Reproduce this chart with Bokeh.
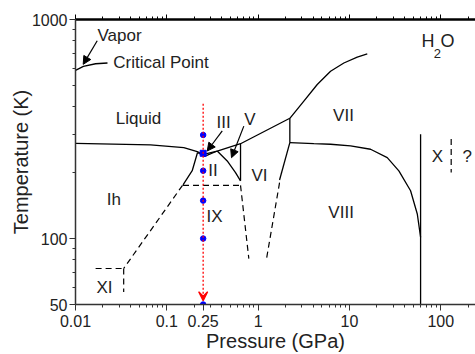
from bokeh.plotting import figure
from bokeh.models import (FixedTicker, LogAxis, CustomJSTickFormatter, Arrow,
                          NormalHead, VeeHead, Range1d)
from bokeh.core.properties import value
from bokeh.embed import file_html
from bokeh.resources import INLINE

FONT = "Liberation Sans"

# ---------------- data (pressure in GPa, temperature in K) ----------------
vap_p = [0.0100, 0.0122, 0.0166, 0.0224]
vap_t = [586, 611, 628, 633]

liq_p = [0.0100, 0.0663, 0.1535, 0.2153, 0.2523, 0.3565, 0.6414, 2.224]
liq_t = [272, 267.5, 260, 249.4, 242, 251, 271, 354]

ih_ii_p = [0.2169, 0.1897, 0.1505]
ih_ii_t = [247, 204, 176]

iii_ii_p = [0.2169, 0.2588, 0.3565]
iii_ii_t = [247, 237, 251]

ii_v_p = [0.3565, 0.4586, 0.5655, 0.6414]
ii_v_t = [251, 226, 200, 183.5]

v_vi_p = [0.6414, 0.6414]
v_vi_t = [270, 183.5]

vi_vii_p = [2.224, 2.224]
vi_vii_t = [354, 274]

vii_melt_p = [2.224, 3.166, 4.439, 6.21, 8.685, 12.17, 15.67]
vii_melt_t = [354, 424, 505, 580, 633, 674, 696]

vii_viii_p = [2.224, 4.074, 6.21, 10.28, 17.02, 25.94, 34.76, 46.7, 55.3, 60.1]
vii_viii_t = [274, 271, 269.5, 264.7, 255.7, 234.2, 203.8, 165.3, 129.5, 101.4]

vi_viii_p = [2.224, 1.716]
vi_viii_t = [274, 185]

x_p = [60.1, 60.1]
x_t = [299, 50]

# dashed (uncertain) boundaries
ix_top_p = [0.1505, 0.6414]
ix_top_t = [175, 175]
ih_xi_p = [0.1486, 0.0337]
ih_xi_t = [175, 73]
xi_top_p = [0.0166, 0.0337]
xi_top_t = [73, 73]
xi_side_p = [0.0337, 0.0337]
xi_side_t = [73, 57]
vi_left_p = [0.6414, 0.7907]
vi_left_t = [175, 81]
vi_right_p = [1.716, 1.236]
vi_right_t = [180, 81]
xq_p = [130, 130]
xq_t = [285, 200]

# measurement path at 0.25 GPa
probe_p = [0.25, 0.25, 0.25, 0.25, 0.25]
probe_t = [297, 204, 149, 100, 50]
probe_main_p = [0.25]
probe_main_t = [245]
path_t_start = 412
path_t_end = 52

# phase labels
lab_text = ["Liquid", "III", "V", "II", "VI", "IX", "Ih", "XI", "VII", "VIII", "X", "?"]
lab_p = [0.049, 0.418, 0.815, 0.321, 1.036, 0.333, 0.0263, 0.0208, 8.6, 8.1, 91.6, 195]
lab_t = [355, 340, 350, 204, 195, 126, 151, 60, 364, 132, 238, 238]

# x and y ticks
x_major = [0.01, 0.1, 0.25, 1, 10, 100]
x_minor = [0.02, 0.03, 0.04, 0.05, 0.06, 0.07, 0.08, 0.09,
           0.2, 0.3, 0.4, 0.5, 0.6, 0.7, 0.8, 0.9,
           2, 3, 4, 5, 6, 7, 8, 9, 20, 30, 40, 50, 60, 70, 80, 90, 200]
top_major = [0.01, 0.1, 1, 10, 100]
y_major = [50, 100, 1000]
y_minor = [60, 70, 80, 90, 200, 300, 400, 500, 600, 700, 800, 900]

# ---------------- figure ----------------
p = figure(width=475, height=354, x_axis_type="log", y_axis_type="log",
           x_range=Range1d(0.01, 240), y_range=Range1d(50, 1000),
           output_backend="svg", toolbar_location=None,
           min_border_left=75, min_border_right=0, min_border_top=19,
           min_border_bottom=50)
p.outline_line_color = None
p.grid.visible = False
p.background_fill_color = "white"

fmt = CustomJSTickFormatter(code="return Number(tick.toPrecision(4)).toString();")

xa = p.xaxis[0]
xa.ticker = FixedTicker(ticks=x_major, minor_ticks=x_minor)
xa.formatter = fmt
xa.axis_label = "Pressure (GPa)"
ya = p.yaxis[0]
ya.ticker = FixedTicker(ticks=y_major, minor_ticks=y_minor)
ya.formatter = fmt
ya.axis_label = "Temperature (K)"

for ax in (xa, ya):
    ax.axis_line_color = "#333333"
    ax.axis_line_width = 1.5
    ax.major_tick_line_color = "#333333"
    ax.minor_tick_line_color = "#333333"
    ax.major_tick_in = 0
    ax.minor_tick_in = 0
    ax.major_tick_out = 6
    ax.minor_tick_out = 3
    ax.major_label_text_font = FONT
    ax.major_label_text_font_size = "16px"
    ax.major_label_text_color = "#222222"
    ax.axis_label_text_font = FONT
    ax.axis_label_text_font_size = "20px"
    ax.axis_label_text_font_style = "normal"
    ax.axis_label_text_color = "#222222"
xa.major_label_standoff = 4
xa.axis_label_standoff = 0
ya.major_label_standoff = 2
ya.axis_label_standoff = -3

top = LogAxis(ticker=FixedTicker(ticks=top_major, minor_ticks=x_minor),
              formatter=CustomJSTickFormatter(code="return '';"))
top.major_label_text_font_size = "2px"
top.major_label_standoff = 0
top.axis_line_color = "black"
top.axis_line_width = 2.5
top.major_tick_in = 0
top.minor_tick_in = 0
top.major_tick_out = 5
top.minor_tick_out = 3
top.major_tick_line_color = "black"
top.minor_tick_line_color = "black"
p.add_layout(top, "above")

solid = [(vap_p, vap_t), (liq_p, liq_t), (ih_ii_p, ih_ii_t), (iii_ii_p, iii_ii_t),
         (ii_v_p, ii_v_t), (v_vi_p, v_vi_t), (vi_vii_p, vi_vii_t),
         (vii_melt_p, vii_melt_t), (vii_viii_p, vii_viii_t), (vi_viii_p, vi_viii_t),
         (x_p, x_t)]
for xs, ys in solid:
    p.line(xs, ys, line_color="black", line_width=1.3)

dashed = [(ix_top_p, ix_top_t), (ih_xi_p, ih_xi_t), (xi_top_p, xi_top_t),
          (xi_side_p, xi_side_t), (vi_left_p, vi_left_t), (vi_right_p, vi_right_t),
          (xq_p, xq_t)]
for xs, ys in dashed:
    p.line(xs, ys, line_color="black", line_width=1.2, line_dash="6 4")

# red measurement path with arrow
p.add_layout(Arrow(x_start=0.25, y_start=path_t_start, x_end=0.25, y_end=path_t_end,
                   line_color="red", line_width=1.3, line_dash="2 2",
                   end=VeeHead(size=9, line_color="red", fill_color="red", line_width=1.3)))

p.scatter(probe_p, probe_t, marker="circle", size=5.5, color="blue")
p.scatter(probe_main_p, probe_main_t, marker="square", size=6, color="blue")

# annotation arrows
arrows = [((0.01729, 800), (0.01214, 624)),
          ((0.4045, 310), (0.277, 251)),
          ((0.697, 326), (0.511, 234))]
for (x0, y0), (x1, y1) in arrows:
    p.add_layout(Arrow(x_start=x0, y_start=y0, x_end=x1, y_end=y1,
                       line_color="black", line_width=1.2,
                       end=NormalHead(size=8, fill_color="black", line_color="black")))

p.text(lab_p, lab_t, text=lab_text, text_font=value(FONT), text_font_size="17px",
       text_align="center", text_baseline="middle", text_color="#222222")

p.text([0.01742, 0.02588], [844, 639], text=["Vapor", "Critical Point"],
       text_font=value(FONT), text_font_size="17px", text_align="left",
       text_baseline="middle", text_color="#222222")

# H2O label
p.text([61.6, 99.5], [794, 794], text=["H", "O"], text_font=value(FONT),
       text_font_size="18px", text_align="left", text_baseline="middle",
       text_color="#222222")
p.text([84.0], [703], text=["2"], text_font=value(FONT), text_font_size="13px",
       text_align="left", text_baseline="middle", text_color="#222222")

open("out.html", "w").write(file_html(p, INLINE))
